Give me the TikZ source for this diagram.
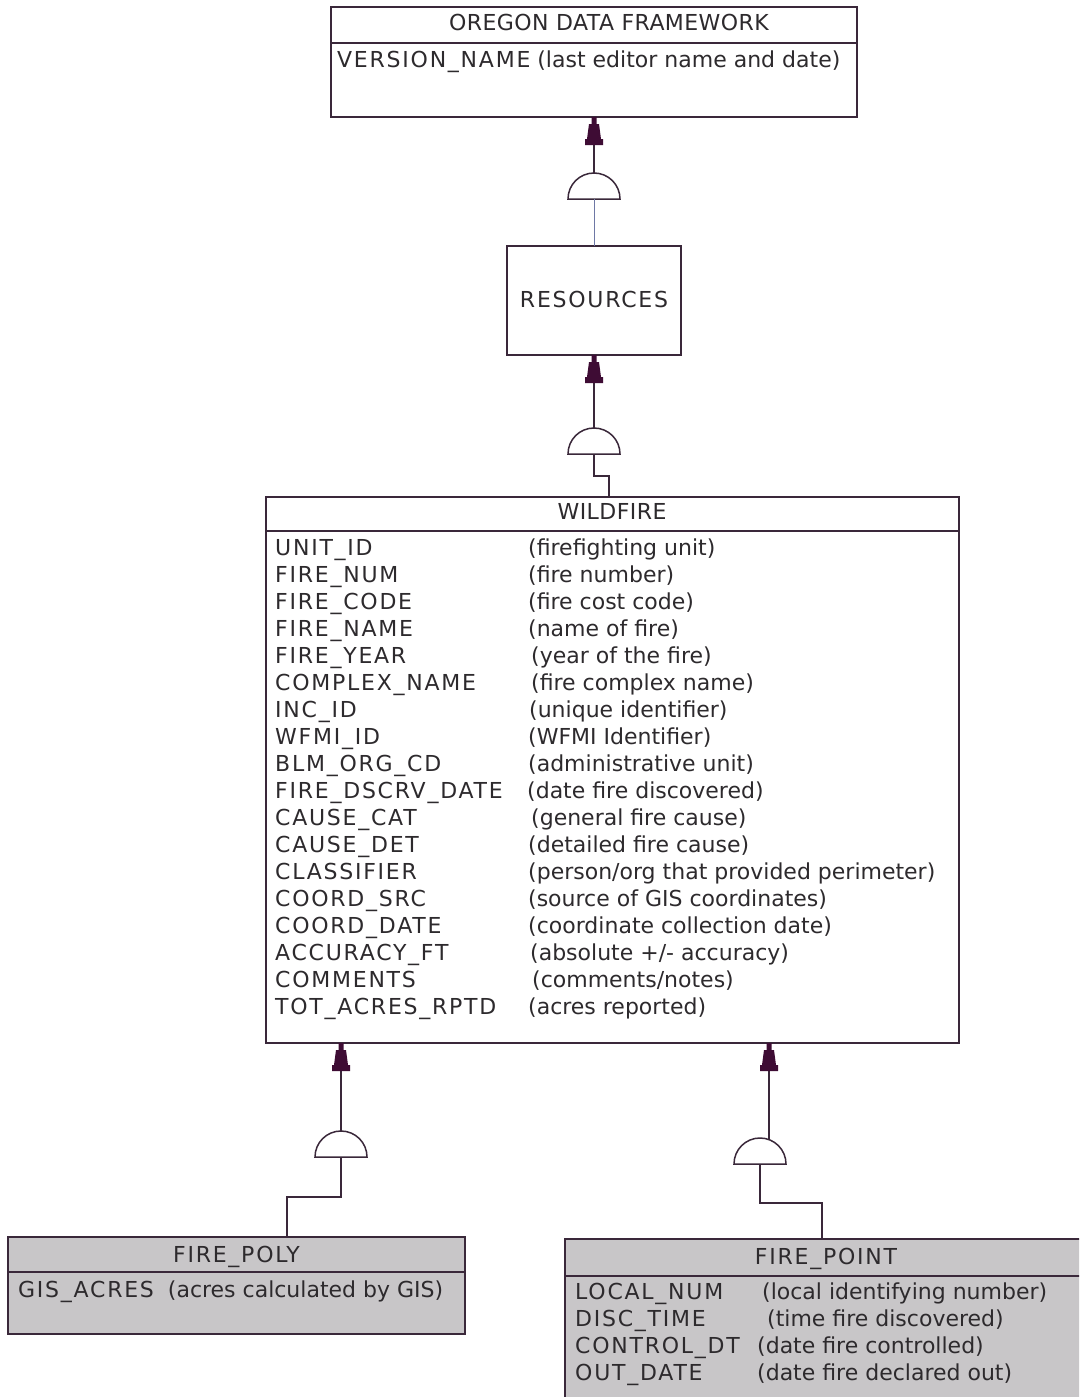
\documentclass[tikz,border=0pt]{standalone}
\usepackage{fontspec}
\setmainfont{DejaVu Sans}
\newfontfamily\capsfont[LetterSpace=8]{DejaVu Sans}
\newfontfamily\titlefont[LetterSpace=2]{DejaVu Sans}
\definecolor{edge}{RGB}{58,40,58}
\definecolor{tipcol}{RGB}{62,12,52}
\definecolor{txt}{RGB}{45,42,45}
\definecolor{boxgray}{RGB}{200,198,200}
\definecolor{thinblue}{RGB}{110,120,165}
\begin{document}
\begin{tikzpicture}[x=1pt,y=-1pt,
  entity/.style={draw=edge,line width=1.5pt,anchor=north west,inner sep=0pt,outer sep=0pt},
  sep/.style={draw=edge,line width=1.5pt},
  lbl/.style={inner sep=0pt,anchor=base west,text=txt,font=\fontsize{22}{26}\selectfont},
  fld/.style={lbl,font=\fontsize{22}{26}\capsfont},
  ttl/.style={inner sep=0pt,anchor=base,text=txt,font=\fontsize{22}{26}\capsfont},
  conn/.style={draw=edge,line width=1.8pt},
  thinconn/.style={draw=thinblue,line width=1pt},
  dome/.style={draw=edge,line width=1.5pt,fill=white},
  ertip/.pic={\fill[tipcol] (-2.5,0) -- (2.5,0) -- (2.5,7) -- (5,7) -- (7,22) -- (9,22) -- (9,28) -- (-9,28) -- (-9,22) -- (-7,22) -- (-5,7) -- (-2.5,7) -- cycle;}]
\fill[white] (0,0) rectangle (1079,1397);
\useasboundingbox (0,0) rectangle (1079,1397);
\clip (0,0) rectangle (1079,1397);

% ---------- OREGON DATA FRAMEWORK ----------
\node[entity,minimum width=526pt,minimum height=110pt] (odf) at (331,7) {};
\draw[sep] (331,43) -- (857,43);
\node[ttl,font=\fontsize{22}{26}\titlefont] (odft) at (609,31) {OREGON DATA FRAMEWORK};
\node[lbl] (odfv) at (337,67) {{\capsfont VERSION\_NAME} (last editor name and date)};

% ---------- RESOURCES ----------
\node[entity,minimum width=174pt,minimum height=109pt] (res) at (507,246) {};
\node[ttl] (rest) at (594,307) {RESOURCES};

% ---------- WILDFIRE ----------
\node[entity,minimum width=693pt,minimum height=546pt] (wild) at (266,497) {};
\draw[sep] (266,531) -- (959,531);
\node[ttl,font=\fontsize{22}{26}\titlefont] (wildt) at (612,519) {WILDFIRE};
\node[fld] (f1)  at (275,555) {UNIT\_ID};
\node[fld] (f2)  at (275,582) {FIRE\_NUM};
\node[fld] (f3)  at (275,609) {FIRE\_CODE};
\node[fld] (f4)  at (275,636) {FIRE\_NAME};
\node[fld] (f5)  at (275,663) {FIRE\_YEAR};
\node[fld] (f6)  at (275,690) {COMPLEX\_NAME};
\node[fld] (f7)  at (275,717) {INC\_ID};
\node[fld] (f8)  at (275,744) {WFMI\_ID};
\node[fld] (f9)  at (275,771) {BLM\_ORG\_CD};
\node[fld] (f10) at (275,798) {FIRE\_DSCRV\_DATE};
\node[fld] (f11) at (275,825) {CAUSE\_CAT};
\node[fld] (f12) at (275,852) {CAUSE\_DET};
\node[fld] (f13) at (275,879) {CLASSIFIER};
\node[fld] (f14) at (275,906) {COORD\_SRC};
\node[fld] (f15) at (275,933) {COORD\_DATE};
\node[fld] (f16) at (275,960) {ACCURACY\_FT};
\node[fld] (f17) at (275,987) {COMMENTS};
\node[fld] (f18) at (275,1014) {TOT\_ACRES\_RPTD};
\node[lbl] (g1)  at (528,555) {(firefighting unit)};
\node[lbl] (g2)  at (528,582) {(fire number)};
\node[lbl] (g3)  at (528,609) {(fire cost code)};
\node[lbl] (g4)  at (528,636) {(name of fire)};
\node[lbl] (g5)  at (531,663) {(year of the fire)};
\node[lbl] (g6)  at (531,690) {(fire complex name)};
\node[lbl] (g7)  at (529,717) {(unique identifier)};
\node[lbl] (g8)  at (528,744) {(WFMI Identifier)};
\node[lbl] (g9)  at (528,771) {(administrative unit)};
\node[lbl] (g10) at (527,798) {(date fire discovered)};
\node[lbl] (g11) at (531,825) {(general fire cause)};
\node[lbl] (g12) at (528,852) {(detailed fire cause)};
\node[lbl] (g13) at (528,879) {(person/org that provided perimeter)};
\node[lbl] (g14) at (528,906) {(source of GIS coordinates)};
\node[lbl] (g15) at (528,933) {(coordinate collection date)};
\node[lbl] (g16) at (530,960) {(absolute +/- accuracy)};
\node[lbl] (g17) at (532,987) {(comments/notes)};
\node[lbl] (g18) at (528,1014) {(acres reported)};

% ---------- FIRE_POLY ----------
\node[entity,fill=boxgray,minimum width=457pt,minimum height=97pt] (poly) at (8,1237) {};
\draw[sep] (8,1272) -- (465,1272);
\node[ttl] (polyt) at (236.5,1262) {FIRE\_POLY};
\node[lbl] (polyv) at (18,1297) {{\capsfont GIS\_ACRES}\ \ (acres calculated by GIS)};

% ---------- FIRE_POINT ----------
\node[entity,fill=boxgray,minimum width=530pt,minimum height=200pt] (point) at (565,1239) {};
\draw[sep] (565,1276) -- (1095,1276);
\node[ttl] (pointt) at (826,1264) {FIRE\_POINT};
\node[fld] (p1) at (575,1299) {LOCAL\_NUM};
\node[fld] (p2) at (575,1326) {DISC\_TIME};
\node[fld] (p3) at (575,1353) {CONTROL\_DT};
\node[fld] (p4) at (575,1380) {OUT\_DATE};
\node[lbl] (q1) at (762,1299) {(local identifying number)};
\node[lbl] (q2) at (767,1326) {(time fire discovered)};
\node[lbl] (q3) at (757,1353) {(date fire controlled)};
\node[lbl] (q4) at (757,1380) {(date fire declared out)};

% ---------- connector 1: ODF <- RESOURCES ----------
\coordinate (d1top) at (594,173);
\coordinate (d1base) at (594,199);
\draw[conn] (odf.south) -- (d1top);
\draw[dome] (568,199) arc[start angle=180,end angle=360,radius=26] -- cycle;
\draw[thinconn] (d1base) -- (res.north);
\pic at (odf.south) {ertip};

% ---------- connector 2: RESOURCES <- WILDFIRE ----------
\coordinate (d2top) at (594,428);
\coordinate (d2base) at (594,454);
\coordinate (d2a) at (594,476);
\coordinate (d2b) at (609,476);
\coordinate (w0) at (609,497);
\draw[conn] (res.south) -- (d2top);
\draw[dome] (568,454) arc[start angle=180,end angle=360,radius=26] -- cycle;
\draw[conn] (d2base) -- (d2a) -- (d2b) -- (w0);
\pic at (res.south) {ertip};

% ---------- connector 3: WILDFIRE <- FIRE_POLY ----------
\coordinate (w1) at (341,1043);
\coordinate (d3top) at (341,1131);
\coordinate (d3base) at (341,1157);
\coordinate (d3a) at (341,1197);
\coordinate (d3b) at (287,1197);
\coordinate (pl) at (287,1237);
\draw[conn] (w1) -- (d3top);
\draw[dome] (315,1157) arc[start angle=180,end angle=360,radius=26] -- cycle;
\draw[conn] (d3base) -- (d3a) -- (d3b) -- (pl);
\pic at (w1) {ertip};

% ---------- connector 4: WILDFIRE <- FIRE_POINT ----------
\coordinate (w2) at (769,1043);
\coordinate (d4top) at (769,1140);
\coordinate (d4base) at (760,1164);
\coordinate (d4a) at (760,1203);
\coordinate (d4b) at (822,1203);
\coordinate (pt) at (822,1239);
\draw[conn] (w2) -- (d4top);
\draw[dome] (734,1164) arc[start angle=180,end angle=360,radius=26] -- cycle;
\draw[conn] (d4base) -- (d4a) -- (d4b) -- (pt);
\pic at (w2) {ertip};
\end{tikzpicture}
\end{document}
